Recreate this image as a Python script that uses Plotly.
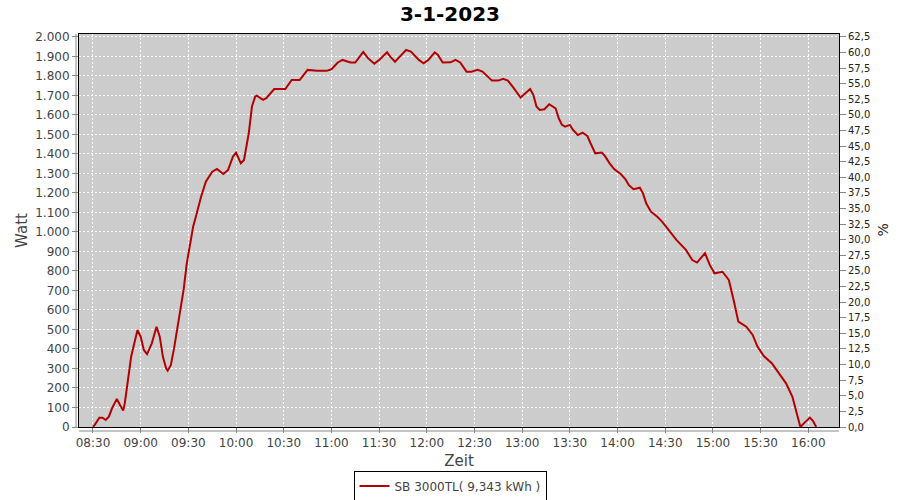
import plotly.graph_objects as go

day = "2023-01-03"
times = ["08:30", "08:31", "08:34", "08:36", "08:38", "08:40", "08:42", "08:44", "08:45", "08:47",
         "08:49", "08:50", "08:52", "08:54", "08:56", "08:58", "09:00", "09:02", "09:04", "09:07",
         "09:10", "09:12", "09:14", "09:16", "09:17", "09:19", "09:21", "09:23", "09:25", "09:27",
         "09:29", "09:31", "09:33", "09:35", "09:38", "09:41", "09:45", "09:48", "09:52", "09:55",
         "09:58", "10:00", "10:03", "10:05", "10:08", "10:10", "10:12", "10:13", "10:17", "10:19",
         "10:24", "10:31", "10:35", "10:40", "10:45", "10:51", "10:57", "11:00", "11:04", "11:07",
         "11:12", "11:15", "11:20", "11:23", "11:27", "11:30", "11:35", "11:37", "11:40", "11:43",
         "11:47", "11:50", "11:55", "11:58", "12:01", "12:05", "12:07", "12:10", "12:15", "12:18",
         "12:21", "12:25", "12:28", "12:32", "12:35", "12:41", "12:45", "12:48", "12:51", "12:54",
         "12:56", "12:59", "13:02", "13:05", "13:07", "13:09", "13:11", "13:14", "13:17", "13:21",
         "13:23", "13:25", "13:27", "13:30", "13:32", "13:35", "13:38", "13:41", "13:43", "13:46",
         "13:50", "13:52", "13:55", "13:58", "14:02", "14:05", "14:07", "14:10", "14:14", "14:16",
         "14:18", "14:21", "14:25", "14:28", "14:32", "14:37", "14:43", "14:47", "14:50", "14:55",
         "14:58", "15:01", "15:06", "15:10", "15:13", "15:16", "15:21", "15:25", "15:28", "15:32",
         "15:37", "15:41", "15:46", "15:50", "15:53", "15:55", "15:58", "16:01", "16:03", "16:05"]
watt = [0, 10, 48, 48, 36, 53, 96, 130, 144, 113,
        84, 121, 241, 360, 429, 497, 463, 395, 374, 429,
        514, 463, 360, 301, 289, 318, 403, 497, 600, 703,
        839, 942, 1027, 1087, 1181, 1258, 1309, 1323, 1297, 1318,
        1386, 1407, 1352, 1369, 1506, 1643, 1694, 1699, 1677, 1686,
        1733, 1733, 1779, 1779, 1831, 1826, 1826, 1834, 1869, 1882,
        1869, 1869, 1923, 1891, 1863, 1882, 1921, 1899, 1873, 1899,
        1933, 1925, 1882, 1865, 1882, 1921, 1908, 1869, 1870, 1882,
        1869, 1822, 1822, 1831, 1822, 1776, 1776, 1785, 1776, 1745,
        1725, 1689, 1711, 1733, 1703, 1643, 1626, 1629, 1655, 1634,
        1583, 1549, 1540, 1549, 1523, 1497, 1509, 1492, 1455, 1403,
        1407, 1390, 1352, 1321, 1297, 1270, 1241, 1219, 1227, 1198,
        1147, 1104, 1078, 1053, 1012, 959, 908, 856, 843, 891,
        831, 788, 796, 754, 651, 540, 514, 472, 412, 364,
        327, 284, 224, 155, 53, 0, 25, 48, 30, 0]

title_text = "3-1-2023"
series_name = "SB 3000TL( 9,343 kWh )"
x_title = "Zeit"
y_title = "Watt"
y2_title = "%"
w_ticks = list(range(0, 2001, 100))
pct_ticks = [i * 2.5 for i in range(26)]
pct_per_watt = 62.5 / 2000.0

x_vals = [f"{day} {t}" for t in times]

font_family = "DejaVu Sans, Verdana, sans-serif"
grey = "#444444"
axis_grey = "#888888"

W, H = 900, 500
plot_w = 760

fig = go.Figure()
fig.add_trace(go.Scatter(x=x_vals, y=watt, mode="lines", name=series_name,
                         line=dict(color="#B40000", width=2), showlegend=True))
# invisible trace to activate the right axis
fig.add_trace(go.Scatter(x=[x_vals[0]], y=[0], yaxis="y2", mode="lines",
                         line=dict(width=0), showlegend=False, hoverinfo="skip"))

y_max = 2015
fig.update_layout(
    width=W, height=H,
    margin=dict(l=79, r=61, t=34, b=73, autoexpand=False),
    paper_bgcolor="white",
    plot_bgcolor="#CCCCCC",
    separators=",.",
    font=dict(family=font_family, size=12, color=grey),
    title=dict(text=f"<b>{title_text}</b>", x=0.5, xanchor="center",
               y=1 - 13.5 / H, yanchor="middle",
               font=dict(size=20, color="#000000", family=font_family)),
    xaxis=dict(
        type="date", automargin=False,
        range=[f"{day} 08:21:12", f"{day} 16:19:18"],
        tick0=f"{day} 08:30", dtick=30 * 60 * 1000, tickformat="%H:%M",
        showgrid=True, gridcolor="white", griddash="2px,2px", gridwidth=1,
        showline=True, linecolor="black", linewidth=1, mirror=True,
        ticks="outside", ticklen=5, tickcolor=axis_grey,
        tickfont=dict(size=12, color=grey),
        title=dict(text=x_title, font=dict(size=15, color=grey), standoff=8),
        zeroline=False,
    ),
    yaxis=dict(
        automargin=False,
        range=[0, y_max], tickvals=w_ticks, tickformat=",d",
        showgrid=True, gridcolor="white", griddash="2px,2px", gridwidth=1,
        showline=True, linecolor="black", linewidth=1, mirror=True,
        ticks="outside", ticklen=6, tickcolor=axis_grey,
        tickfont=dict(size=12, color=grey),
        title=dict(text=y_title, font=dict(size=15, color=grey), standoff=3),
        zeroline=False,
    ),
    yaxis2=dict(
        automargin=False,
        overlaying="y", side="right",
        range=[0, y_max * pct_per_watt], tickvals=pct_ticks, tickformat=".1f",
        showgrid=False, zeroline=False, showline=False,
        ticks="outside", ticklen=6, tickcolor=axis_grey,
        tickfont=dict(size=10, color="#222222"),
    ),
    legend=dict(orientation="h", x=0.5, xanchor="center", xref="container",
                yref="container", y=1 - 486 / H, yanchor="middle",
                bordercolor="black", borderwidth=1, bgcolor="white",
                font=dict(size=12, color=grey), itemwidth=30),
    annotations=[
        dict(text=y2_title, xref="paper", yref="paper", x=(882 - 79) / plot_w, y=0.5,
             xanchor="center", yanchor="middle", showarrow=False, textangle=-90,
             font=dict(size=14, color="#222222")),
    ],
    shapes=[
        dict(type="line", xref="paper", yref="paper", x0=-3 / plot_w, x1=-3 / plot_w, y0=0, y1=1,
             line=dict(color=axis_grey, width=1)),
        dict(type="line", xref="paper", yref="paper", x0=0, x1=1, y0=-4 / 393, y1=-4 / 393,
             line=dict(color=axis_grey, width=1)),
    ],
)

fig.write_html("out.html", config={"displayModeBar": False},
               post_script="document.body.style.margin='0';")
